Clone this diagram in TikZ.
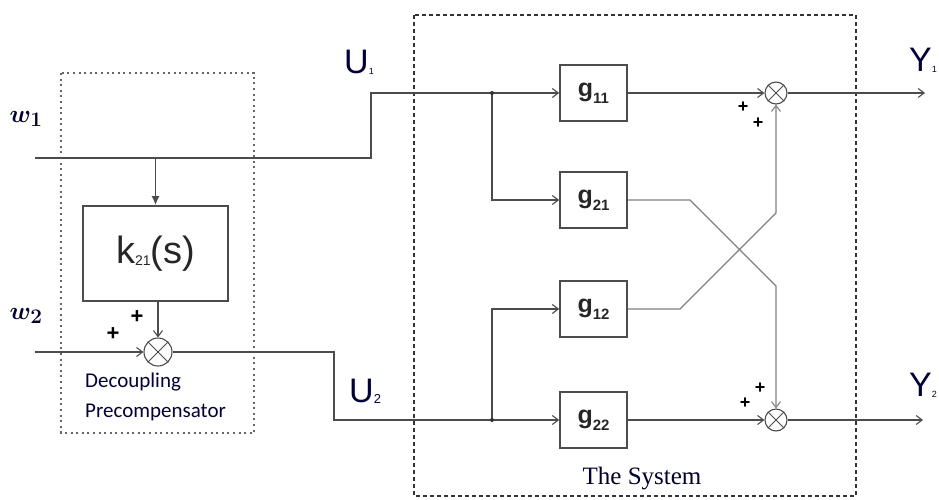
\documentclass[tikz,border=0pt]{standalone}
\usepackage{fontspec}
\setmainfont{Liberation Sans}
\newfontfamily\seriffam{Liberation Serif}
\newfontfamily\carlfam{Carlito}
\usetikzlibrary{arrows.meta}
\begin{document}
\begin{tikzpicture}[x=1pt,y=-1pt,
  wire/.style={draw=black!70, line width=1.6pt},
  thinwire/.style={draw=black!50, line width=1.2pt},
  arr/.style={-{Straight Barb[length=6pt,width=9pt,line width=1.1pt]}},
  blk/.style={draw=black!70, line width=1.6pt, minimum width=67pt, minimum height=56pt, inner sep=0pt, font=\fontsize{25}{25}\selectfont\bfseries, text=black!85},
  sumnode/.style={circle, draw=black!70, line width=1.1pt, inner sep=0pt},
  plus/.style={font=\fontsize{22}{22}\selectfont\bfseries, inner sep=0pt},
  smallplus/.style={font=\fontsize{18}{18}\selectfont\bfseries, inner sep=0pt},
  sig/.style={font=\fontsize{34}{34}\selectfont, text=black!75!blue, inner sep=0pt, anchor=west},
  inlab/.style={font=\fontsize{28}{28}\selectfont\boldmath, text=black!80!blue, inner sep=0pt}
]
\useasboundingbox (0,0) rectangle (939,499);

% frames
\draw[black!60, line width=2pt, dash pattern=on 2pt off 3.6pt] (61,73) rectangle (254,433);
\draw[black!80, line width=1.4pt, dash pattern=on 4pt off 3pt] (414,15) rectangle (856,496);

% blocks
\node[blk, minimum width=145pt, minimum height=95pt, font=\fontsize{38}{38}\selectfont, text=black!85] (k) at (155.5,253.5)
  {\raisebox{5pt}{k\raisebox{-2pt}{\fontsize{14}{14}\selectfont 21}(s)}};
\node[blk] (g11) at (593.5,93) {\raisebox{3pt}{g}\raisebox{-4pt}{\fontsize{15}{15}\selectfont\bfseries 11}};
\node[blk] (g21) at (593.5,200) {\raisebox{3pt}{g}\raisebox{-4pt}{\fontsize{15}{15}\selectfont\bfseries 21}};
\node[blk] (g12) at (593.5,309) {\raisebox{3pt}{g}\raisebox{-4pt}{\fontsize{15}{15}\selectfont\bfseries 12}};
\node[blk] (g22) at (593.5,420) {\raisebox{3pt}{g}\raisebox{-4pt}{\fontsize{15}{15}\selectfont\bfseries 22}};

% summing junctions
\node[sumnode, minimum size=28pt] (sL) at (158,352) {};
\node[sumnode, minimum size=22pt] (s1) at (776,93) {};
\node[sumnode, minimum size=22pt] (s2) at (776,420) {};
\foreach \s in {sL,s1,s2}{
  \draw[black!70, line width=0.9pt] (\s.north west) -- (\s.south east) (\s.north east) -- (\s.south west);
}

% coordinates
\coordinate (w1s) at (35,158);
\coordinate (bp1) at (155.5,158);
\coordinate (t1a) at (371,158);
\coordinate (t1b) at (371,93);
\coordinate (w2s) at (35,352);
\coordinate (t2a) at (334,352);
\coordinate (t2b) at (334,420);
\coordinate (d1) at (492,93);
\coordinate (d2) at (492,420);
\coordinate (c21a) at (690,200);
\coordinate (c21b) at (776,286);
\coordinate (c12a) at (680,309);
\coordinate (c12b) at (776,213);
\coordinate (y1e) at (925,93);
\coordinate (y2e) at (923,420);

% connectors
\draw[wire, arr] (w1s) -- (t1a) -- (t1b) -- (g11.west);
\draw[wire, -{Latex[length=9pt,width=8pt]}] (bp1) -- (k.north);
\draw[wire, arr] (k.south -| sL.north) -- (sL.north);
\draw[wire, arr] (w2s) -- (sL.west);
\draw[wire, arr] (sL.east) -- (t2a) -- (t2b) -- (g22.west);
\draw[wire, arr] (d1) |- (g21.west);
\draw[wire, arr] (d2) |- (g12.west);
\fill[black!80] (d1) circle (2pt) (d2) circle (2pt);
\draw[wire, arr] (g11.east) -- (s1.west);
\draw[wire, arr] (g22.east) -- (s2.west);
\draw[wire, arr] (s1.east) -- (y1e);
\draw[wire, arr] (s2.east) -- (y2e);
\draw[thinwire, arr] (g21.east) -- (c21a) -- (c21b) -- (s2.north);
\draw[thinwire, arr] (g12.east) -- (c12a) -- (c12b) -- (s1.south);

% signs
\node[plus] (p1) at (113,334) {+};
\node[plus] (p2) at (137,317) {+};
\node[smallplus] (p3) at (743,107) {+};
\node[smallplus] (p4) at (758,123) {+};
\node[smallplus] (p5) at (745,403) {+};
\node[smallplus] (p6) at (760,388) {+};

% labels
\node[inlab] (lw1) at (26,119) {$w_1$};
\node[inlab] (lw2) at (26,316) {$w_2$};
\node[sig] (lu1) at (344,62) {U\raisebox{-1pt}{\fontsize{9}{9}\selectfont 1}};
\node[sig] (lu2) at (349,391) {U\raisebox{-1pt}{\fontsize{13}{13}\selectfont 2}};
\node[sig] (ly1) at (909,60) {Y\raisebox{-1pt}{\fontsize{9}{9}\selectfont 1}};
\node[sig] (ly2) at (909,385) {Y\raisebox{-1pt}{\fontsize{9}{9}\selectfont 2}};
\node[anchor=west, inner sep=0pt, align=left, text=black!75!blue, font=\carlfam\fontsize{21}{30}\selectfont] (dp) at (85,397) {Decoupling\\Precompensator};
\node[inner sep=0pt, text=black!80!blue, font=\seriffam\fontsize{25}{25}\selectfont] (sys) at (642,479) {The System};
\end{tikzpicture}
\end{document}
